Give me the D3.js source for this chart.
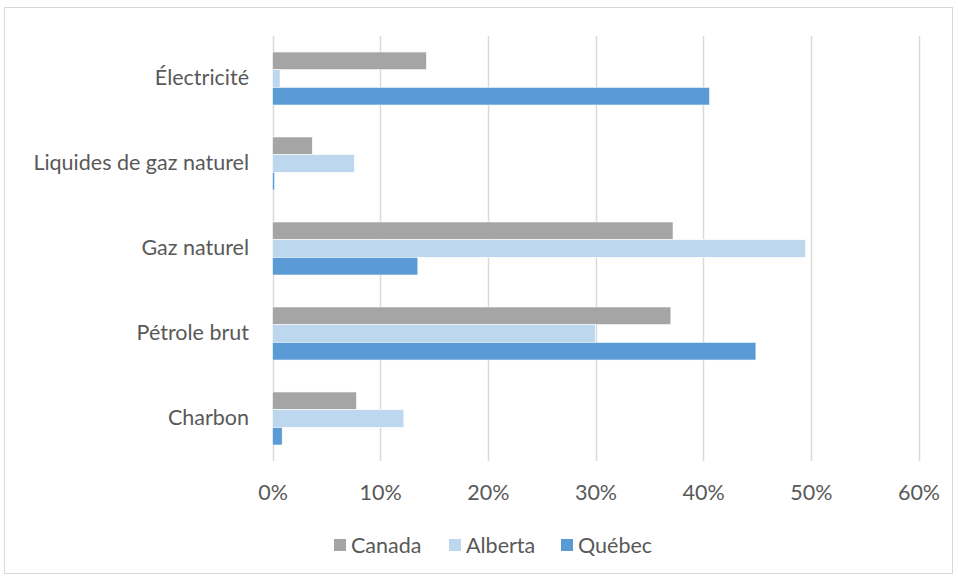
<!DOCTYPE html>
<html><head><meta charset="utf-8">
<script src="https://cdn.jsdelivr.net/npm/d3@7"></script>
<style>body{margin:0;background:#fff}svg{display:block}</style>
</head><body>
<script>
const categories = ["Électricité","Liquides de gaz naturel","Gaz naturel","Pétrole brut","Charbon"];
const seriesNames = ["Canada","Alberta","Québec"];
const canada = [14.3, 3.7, 37.2, 37.0, 7.8];
const alberta = [0.7, 7.6, 49.5, 30.0, 12.2];
const quebec = [40.6, 0.2, 13.5, 44.9, 0.9];
const xTicks = [0,10,20,30,40,50,60];
const colors = ["#A5A5A5","#BDD7EE","#5B9BD5"];

const W=958,H=577;
const svg=d3.select("body").append("svg").attr("width",W).attr("height",H);
svg.append("rect").attr("x",4.5).attr("y",7.5).attr("width",948).attr("height",566)
  .attr("fill","#fff").attr("stroke","#d9d9d9");
const font="Lato, 'Open Sans', sans-serif";
const fs=21.5;
const x=d3.scaleLinear().domain([0,60]).range([272.5,918.5]);
const y=d3.scaleBand().domain(categories).range([36,461]).paddingInner(0.376).paddingOuter(0.188);
const ys=d3.scaleBand().domain(seriesNames).range([0,y.bandwidth()]);
const data=[canada,alberta,quebec];

const g=svg.append("g");
g.selectAll("line.grid").data(xTicks).join("line")
  .attr("x1",d=>Math.round(x(d))+0.5).attr("x2",d=>Math.round(x(d))+0.5)
  .attr("y1",36).attr("y2",461).attr("stroke","#d9d9d9").attr("stroke-width",1.5);

seriesNames.forEach((s,si)=>{
  g.selectAll("rect.s"+si).data(categories).join("rect")
   .attr("x",x(0)).attr("y",c=>y(c)+ys(s))
   .attr("width",(c,i)=>x(data[si][i])-x(0)).attr("height",ys.bandwidth())
   .attr("fill",colors[si]).attr("stroke","#fff").attr("stroke-width",0.6);
});

const xAxis=d3.axisBottom(x).tickValues(xTicks).tickFormat(d=>d+"%").tickSize(0).tickPadding(0);
const ax=svg.append("g").attr("transform","translate(0,461)").call(xAxis);
ax.select(".domain").remove();
ax.selectAll("text").attr("y",31).attr("dy","0.35em").attr("font-family",font).attr("font-size",fs).attr("fill","#595959");

const yAxis=d3.axisLeft(y).tickSize(0).tickPadding(0);
const ay=svg.append("g").attr("transform","translate(249,0)").call(yAxis);
ay.select(".domain").remove();
ay.selectAll("text").attr("x",0).attr("font-family",font).attr("font-size",fs).attr("fill","#595959");

const legX=[334,449,561];
const leg=svg.append("g");
seriesNames.forEach((s,i)=>{
  leg.append("rect").attr("x",legX[i]).attr("y",539).attr("width",12).attr("height",12).attr("fill",colors[i]);
  leg.append("text").attr("x",legX[i]+17).attr("y",545).attr("dy","0.35em")
    .attr("font-family",font).attr("font-size",fs).attr("fill","#595959").text(s);
});
</script>
</body></html>
